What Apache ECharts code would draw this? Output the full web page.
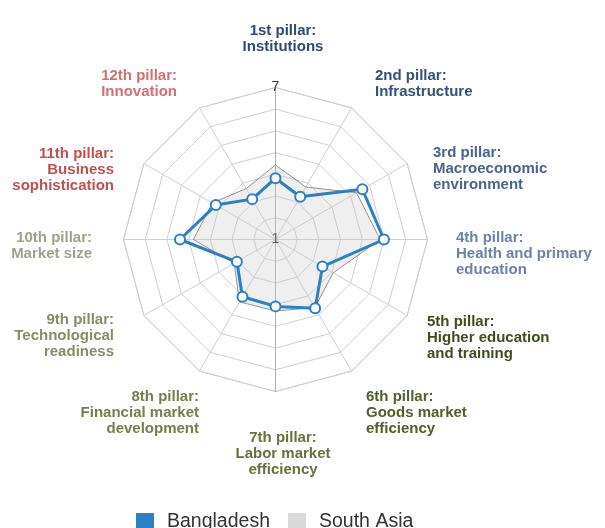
<!DOCTYPE html>
<html>
<head>
<meta charset="utf-8">
<script src="https://cdn.jsdelivr.net/npm/echarts@6/dist/echarts.min.js"></script>
<style>
html,body{margin:0;padding:0;background:#fff;}
#chart{width:605px;height:528px;}
</style>
</head>
<body>
<div id="chart"></div>
<script>
// ---- data ----
const pillarNames = [
  "1st pillar:\nInstitutions",
  "2nd pillar:\nInfrastructure",
  "3rd pillar:\nMacroeconomic\nenvironment",
  "4th pillar:\nHealth and primary\neducation",
  "5th pillar:\nHigher education\nand training",
  "6th pillar:\nGoods market\nefficiency",
  "7th pillar:\nLabor market\nefficiency",
  "8th pillar:\nFinancial market\ndevelopment",
  "9th pillar:\nTechnological\nreadiness",
  "10th pillar:\nMarket size",
  "11th pillar:\nBusiness\nsophistication",
  "12th pillar:\nInnovation"
];
const seriesNames = ["Bangladesh", "South Asia"];
const bangladesh = [3.42, 2.95, 4.96, 5.28, 3.14, 4.13, 3.64, 3.61, 2.76, 4.77, 3.72, 2.84];
const southAsia  = [3.94, 3.39, 4.69, 5.13, 3.63, 4.10, 3.82, 3.84, 2.88, 4.24, 3.88, 3.32];
const scaleMin = 1;
const scaleMax = 7;
const shownTicks = [1, 7];

// ---- styling (not data) ----
const nameColors = ["#2f4a75","#34507e","#4b6390","#6c82a8","#3e4d1e","#515f2d",
                    "#65733f","#737f50","#838f66","#9ba48a","#c2504f","#d07171"];
// per-pillar label layout: gap, align, vertical align, padding
const nameLayout = [
  {gap: 48.5, align: "center", va: "middle", pad: [0, 0, 0, 15]},
  {gap: 47,   align: "left",   va: "top",    pad: [0.3, 0, 0, 0]},
  {gap: 29.9, align: "left",   va: "top",    pad: [-4.1, 0, 0, 0]},
  {gap: 28.5, align: "left",   va: "top",    pad: [-10, 0, 0, 0]},
  {gap: 22.9, align: "left",   va: "top",    pad: [-13.5, 0, 0, 0]},
  {gap: 29,   align: "left",   va: "top",    pad: [-7.7, 0, 0, 0]},
  {gap: 62.5, align: "center", va: "middle", pad: [0, 0, 0, 15]},
  {gap: 1,    align: "right",  va: "top",    pad: [16.5, 0, 0, 0]},
  {gap: 34.5, align: "right",  va: "top",    pad: [-21.2, 0, 0, 0]},
  {gap: 31.5, align: "right",  va: "top",    pad: [-10, 0, 0, 0]},
  {gap: 34.5, align: "right",  va: "top",    pad: [-0.8, 0, 0, 0]},
  {gap: 45,   align: "right",  va: "top",    pad: [-1.4, 0, 0, 0]}
];
const FONT = "'Liberation Sans', Arial, Helvetica, sans-serif";
const blue = "#2b80c5";

// ECharts lays radar indicators counter-clockwise; the reference runs clockwise.
const order = pillarNames.map((_, k) => (pillarNames.length - k) % pillarNames.length);

const indicator = order.map(i => {
  const o = {
    name: pillarNames[i], min: scaleMin, max: scaleMax, color: nameColors[i],
    nameGap: nameLayout[i].gap,
    nameTextStyle: {
      align: nameLayout[i].align, verticalAlign: nameLayout[i].va,
      padding: nameLayout[i].pad, lineHeight: 16
    }
  };
  if (i === 0 || i === 6) {
    o.axisLine = {lineStyle: {color: "#b0b0b0"}};
  }
  if (i === 0) {
    o.axisLabel = {
      show: true, margin: 0, align: "center", verticalAlign: "middle",
      color: "#333", fontSize: 14, fontFamily: FONT,
      formatter: v => shownTicks.some(t => Math.abs(t - v) < 1e-6) ? String(Math.round(v)) : ""
    };
  }
  return o;
});
const reorder = arr => order.map(i => arr[i]);

const chart = echarts.init(document.getElementById("chart"), null, {renderer: "canvas"});
chart.setOption({
  backgroundColor: "#fff",
  animation: false,
  textStyle: {fontFamily: FONT},
  legend: {
    data: [
      {name: seriesNames[0], itemStyle: {color: blue, borderWidth: 0}},
      {name: seriesNames[1], itemStyle: {color: "#d9d9d9", borderWidth: 0}}
    ],
    icon: "rect", itemWidth: 18, itemHeight: 18, itemGap: 18,
    left: 136, top: 512, padding: 0,
    textStyle: {fontSize: 19.5, color: "#333", fontFamily: FONT, padding: [0, 0, 0, 8]}
  },
  radar: {
    center: [275.5, 239.5],
    radius: 152,
    startAngle: 90,
    splitNumber: 7,
    shape: "polygon",
    indicator: indicator,
    axisName: {fontSize: 15, fontWeight: "bold", fontFamily: FONT, lineHeight: 16},
    axisLine: {lineStyle: {color: "#d0d0d0", width: 1}},
    splitLine: {lineStyle: {color: "#d0d0d0", width: 1}},
    splitArea: {show: false},
    axisLabel: {show: false},
    axisTick: {show: false}
  },
  series: [
    {
      type: "radar",
      z: 2,
      symbol: "none",
      data: [{
        name: seriesNames[1],
        value: reorder(southAsia),
        lineStyle: {color: "#8a8a8a", width: 1},
        areaStyle: {color: "rgba(200,200,200,0.42)"},
        itemStyle: {color: "#d9d9d9"}
      }]
    },
    {
      type: "radar",
      z: 3,
      symbol: "circle",
      symbolSize: 10,
      data: [{
        name: seriesNames[0],
        value: reorder(bangladesh),
        lineStyle: {color: blue, width: 3},
        itemStyle: {color: "#fff", borderColor: blue, borderWidth: 2}
      }]
    }
  ]
});
</script>
</body>
</html>
